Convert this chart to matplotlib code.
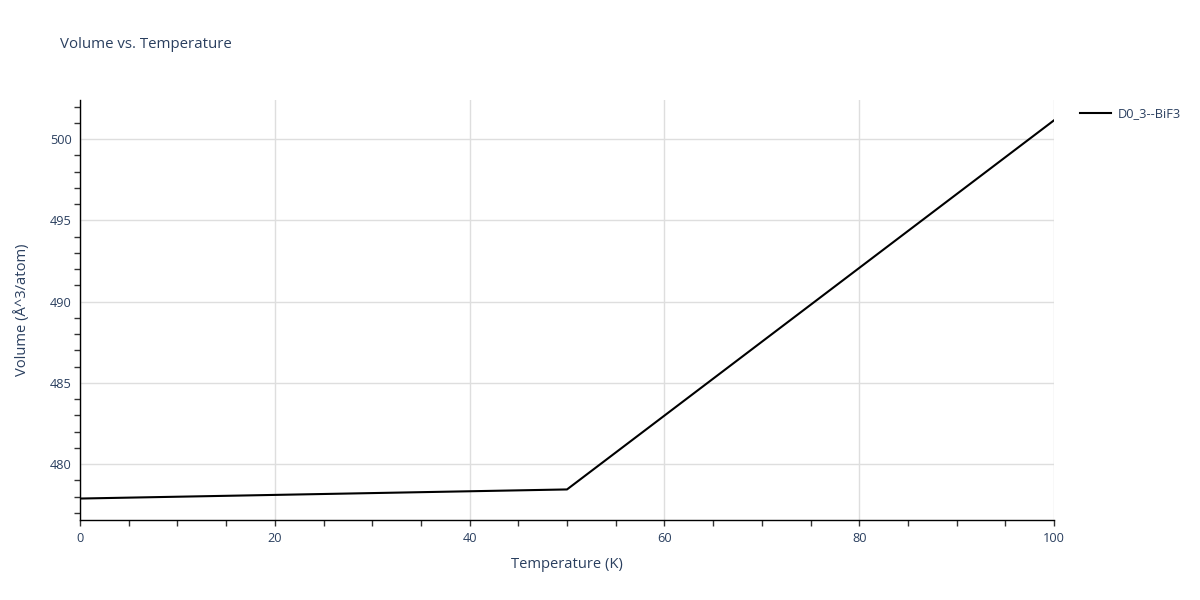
import matplotlib
matplotlib.use('Agg')
import matplotlib.pyplot as plt
from matplotlib.ticker import MultipleLocator

# data
temperatura = [0, 50, 100]
volume = [477.88, 478.44, 501.15]
nome_serie = 'D0_3--BiF3'

cor_texto = '#2a3f5f'
plt.rcParams['font.family'] = ['Open Sans', 'DejaVu Sans']

fig = plt.figure(figsize=(12, 6), dpi=100)
ax = fig.add_axes([80 / 1200, 80 / 600, 974 / 1200, 420 / 600])

ax.plot(temperatura, volume, color='black', linewidth=1.5, label=nome_serie, zorder=3)

ax.set_xlim(0, 100)
ax.set_ylim(476.56, 502.4)
ax.xaxis.set_major_locator(MultipleLocator(20))
ax.xaxis.set_minor_locator(MultipleLocator(5))
ax.yaxis.set_major_locator(MultipleLocator(5))
ax.yaxis.set_minor_locator(MultipleLocator(1))

ax.grid(True, which='major', color='#dedede', linewidth=1)
ax.set_axisbelow(True)
for lado in ['top', 'right']:
    ax.spines[lado].set_visible(False)
for lado in ['left', 'bottom']:
    ax.spines[lado].set_color('black')
    ax.spines[lado].set_linewidth(1)

ax.tick_params(which='both', direction='out', length=4, width=1, color='#333333',
               labelsize=9.2, labelcolor=cor_texto)
ax.tick_params(axis='y', which='major', length=0, pad=6)
ax.tick_params(axis='x', which='major', length=4, pad=5)

ax.set_xlabel('Temperature (K)', fontsize=10.6, color=cor_texto, labelpad=8)
ax.set_ylabel('Volume (Å^3/atom)', fontsize=10.6, color=cor_texto, labelpad=14)

fig.text(60 / 1200, 1 - 45 / 600, 'Volume vs. Temperature', fontsize=10.8,
         color=cor_texto, va='center', ha='left')

ax.legend(loc='upper left', bbox_to_anchor=(1.015, 1.01), frameon=False,
          fontsize=9.2, labelcolor=cor_texto, handlelength=2.4, handletextpad=0.55)

fig.savefig('out.png', dpi=100)
